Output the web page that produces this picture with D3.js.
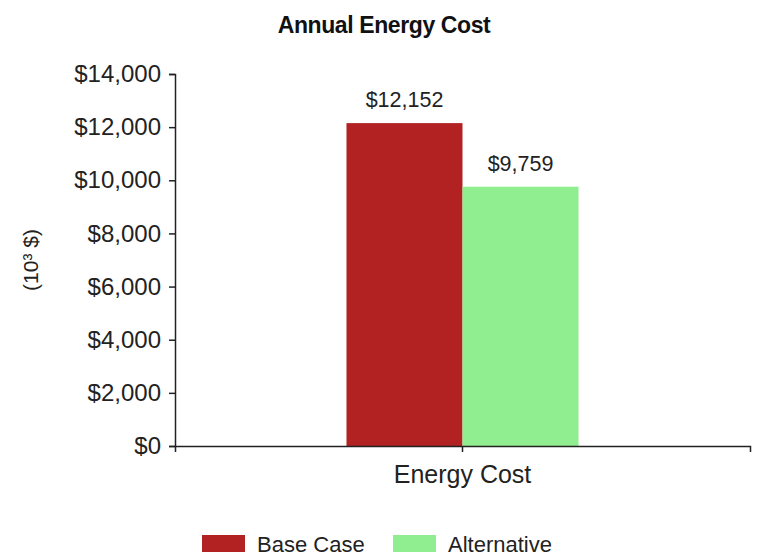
<!DOCTYPE html>
<html><head><meta charset="utf-8">
<script src="https://cdn.jsdelivr.net/npm/d3@7"></script>
<style>
body{margin:0;background:#fff;}
svg{display:block;font-family:"Liberation Sans",Arial,sans-serif;}
</style></head>
<body><svg id="c" width="760" height="557"></svg>
<script>
const title = "Annual Energy Cost";
const categories = ["Energy Cost"];
const seriesNames = ["Base Case", "Alternative"];
const seriesColors = ["#B22222", "#90EE90"];
const baseCase = [12152];
const alternative = [9759];
const yTicks = [0, 2000, 4000, 6000, 8000, 10000, 12000, 14000];
const yLabel = "(10\u00B3 $)";

const seriesValues = [baseCase, alternative];
const svg = d3.select("#c");
const m = {l:175, r:10, t:74, b:111};
const W = 760, H = 557;
const x0 = d3.scaleBand().domain(categories).range([m.l, W - m.r]).paddingOuter(0.739).paddingInner(0);
const x1 = d3.scaleBand().domain(seriesNames).range([0, x0.bandwidth()]).padding(0);
const y = d3.scaleLinear().domain([0, 14000]).range([H - m.b, m.t]);
const fmt = d3.format("$,.0f");
const textColor = "#222";

svg.append("text").attr("x", 384).attr("y", 33).attr("text-anchor", "middle")
  .attr("font-size", 23).attr("font-weight", "bold").attr("letter-spacing", "-0.4")
  .attr("fill", "#111").text(title);

// bars
const g = svg.append("g");
categories.forEach((c, ci) => {
  seriesNames.forEach((s, si) => {
    const v = seriesValues[si][ci];
    g.append("rect").attr("x", x0(c) + x1(s)).attr("y", y(v))
      .attr("width", x1.bandwidth()).attr("height", y(0) - y(v))
      .attr("fill", seriesColors[si]);
    g.append("text").attr("x", x0(c) + x1(s) + x1.bandwidth()/2).attr("y", y(v) - 16)
      .attr("text-anchor", "middle").attr("font-size", 21.5).attr("fill", textColor)
      .text(fmt(v));
  });
});

// y axis
const ya = svg.append("g").attr("transform", `translate(${m.l},0)`)
  .call(d3.axisLeft(y).tickValues(yTicks).tickFormat(fmt).tickSize(6).tickSizeOuter(6).tickPadding(8));
ya.selectAll("text").attr("font-size", 24).attr("fill", textColor).attr("font-family", "Liberation Sans, Arial, sans-serif");
ya.selectAll("line,path").attr("stroke", "#222").attr("stroke-width", 1.5);

// x axis
const xa = svg.append("g").attr("transform", `translate(0,${y(0)})`)
  .call(d3.axisBottom(x0).tickSize(6).tickSizeOuter(6).tickPadding(13));
xa.selectAll("text").attr("font-size", 25).attr("fill", textColor).attr("font-family", "Liberation Sans, Arial, sans-serif");
xa.selectAll("line,path").attr("stroke", "#222").attr("stroke-width", 1.5);

// y label
svg.append("text").attr("transform", "translate(38,260) rotate(-90)")
  .attr("text-anchor", "middle").attr("font-size", 21).attr("fill", textColor).text(yLabel);

// legend
const lg = svg.append("g");
const legX = [202, 393];
seriesNames.forEach((s, i) => {
  lg.append("rect").attr("x", legX[i]).attr("y", 535).attr("width", 43).attr("height", 17)
    .attr("fill", seriesColors[i]);
  lg.append("text").attr("x", legX[i] + 55).attr("y", 552).attr("font-size", 22)
    .attr("fill", textColor).text(s);
});
</script></body></html>
